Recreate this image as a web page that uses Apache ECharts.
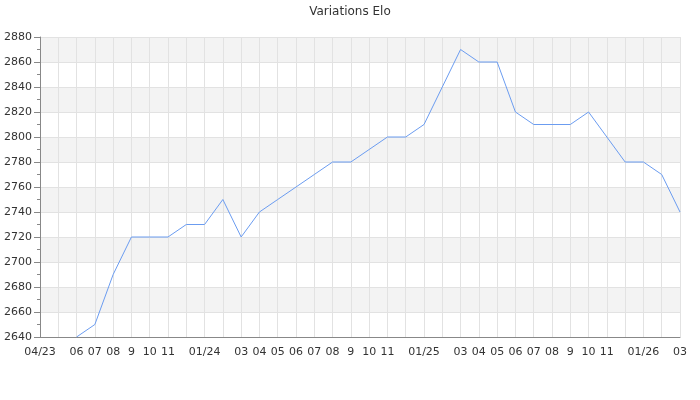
<!DOCTYPE html>
<html><head><meta charset="utf-8">
<script src="https://cdn.jsdelivr.net/npm/echarts@6/dist/echarts.min.js"></script>
<style>html,body{margin:0;padding:0;background:#fff}#c{width:700px;height:400px}</style>
</head><body><div id="c"></div>
<script>
const categories = ['2023-04','2023-05','2023-06','2023-07','2023-08','2023-09','2023-10','2023-11','2023-12',
  '2024-01','2024-02','2024-03','2024-04','2024-05','2024-06','2024-07','2024-08','2024-09','2024-10','2024-11','2024-12',
  '2025-01','2025-02','2025-03','2025-04','2025-05','2025-06','2025-07','2025-08','2025-09','2025-10','2025-11','2025-12',
  '2026-01','2026-02','2026-03'];
const tickLabels = ['04/23','','06','07','08','9','10','11','',
  '01/24','','03','04','05','06','07','08','9','10','11','',
  '01/25','','03','04','05','06','07','08','9','10','11','',
  '01/26','','03'];
const elo = [null,null,2640,2650,2690,2720,2720,2720,2730,
  2730,2750,2720,2740,2750,2760,2770,2780,2780,2790,2800,2800,
  2810,2840,2870,2860,2860,2820,2810,2810,2810,2820,2800,2780,
  2780,2770,2740];
const yMin = 2640, yMax = 2880, yStep = 20;

const chart = echarts.init(document.getElementById('c'), null, {renderer:'canvas'});
chart.setOption({
  animation:false,
  backgroundColor:'#fff',
  textStyle:{fontFamily:'DejaVu Sans'},
  title:{text:'Variations Elo',left:'center',top:1,textStyle:{fontSize:12,fontWeight:'normal',color:'#333',fontFamily:'DejaVu Sans'}},
  grid:{left:40,right:20,top:37,bottom:63,containLabel:false,outerBoundsMode:'none'},
  xAxis:{type:'category',data:categories,boundaryGap:false,
    axisLine:{lineStyle:{color:'#888'}},axisTick:{show:false},
    axisLabel:{interval:0,color:'#333',fontSize:11,margin:10,formatter:(v,i)=>tickLabels[i]},
    splitLine:{show:true,interval:0,lineStyle:{color:'#e2e2e2'}}},
  yAxis:{type:'value',min:yMin,max:yMax,interval:yStep,
    axisLine:{show:true,lineStyle:{color:'#888'}},
    axisTick:{show:true,length:6,lineStyle:{color:'#888'}},
    minorTick:{show:true,splitNumber:2,length:3,lineStyle:{color:'#888'}},
    axisLabel:{color:'#333',fontSize:11,margin:8,formatter:v=>String(v)},
    splitLine:{show:true,lineStyle:{color:'#e2e2e2'}},
    splitArea:{show:true,areaStyle:{color:['#ffffff','#f3f3f3']}}},
  series:[{type:'line',data:elo,symbol:'none',connectNulls:false,
    lineStyle:{color:'#6b9cf0',width:1},itemStyle:{color:'#6b9cf0'}}]
});
</script></body></html>
